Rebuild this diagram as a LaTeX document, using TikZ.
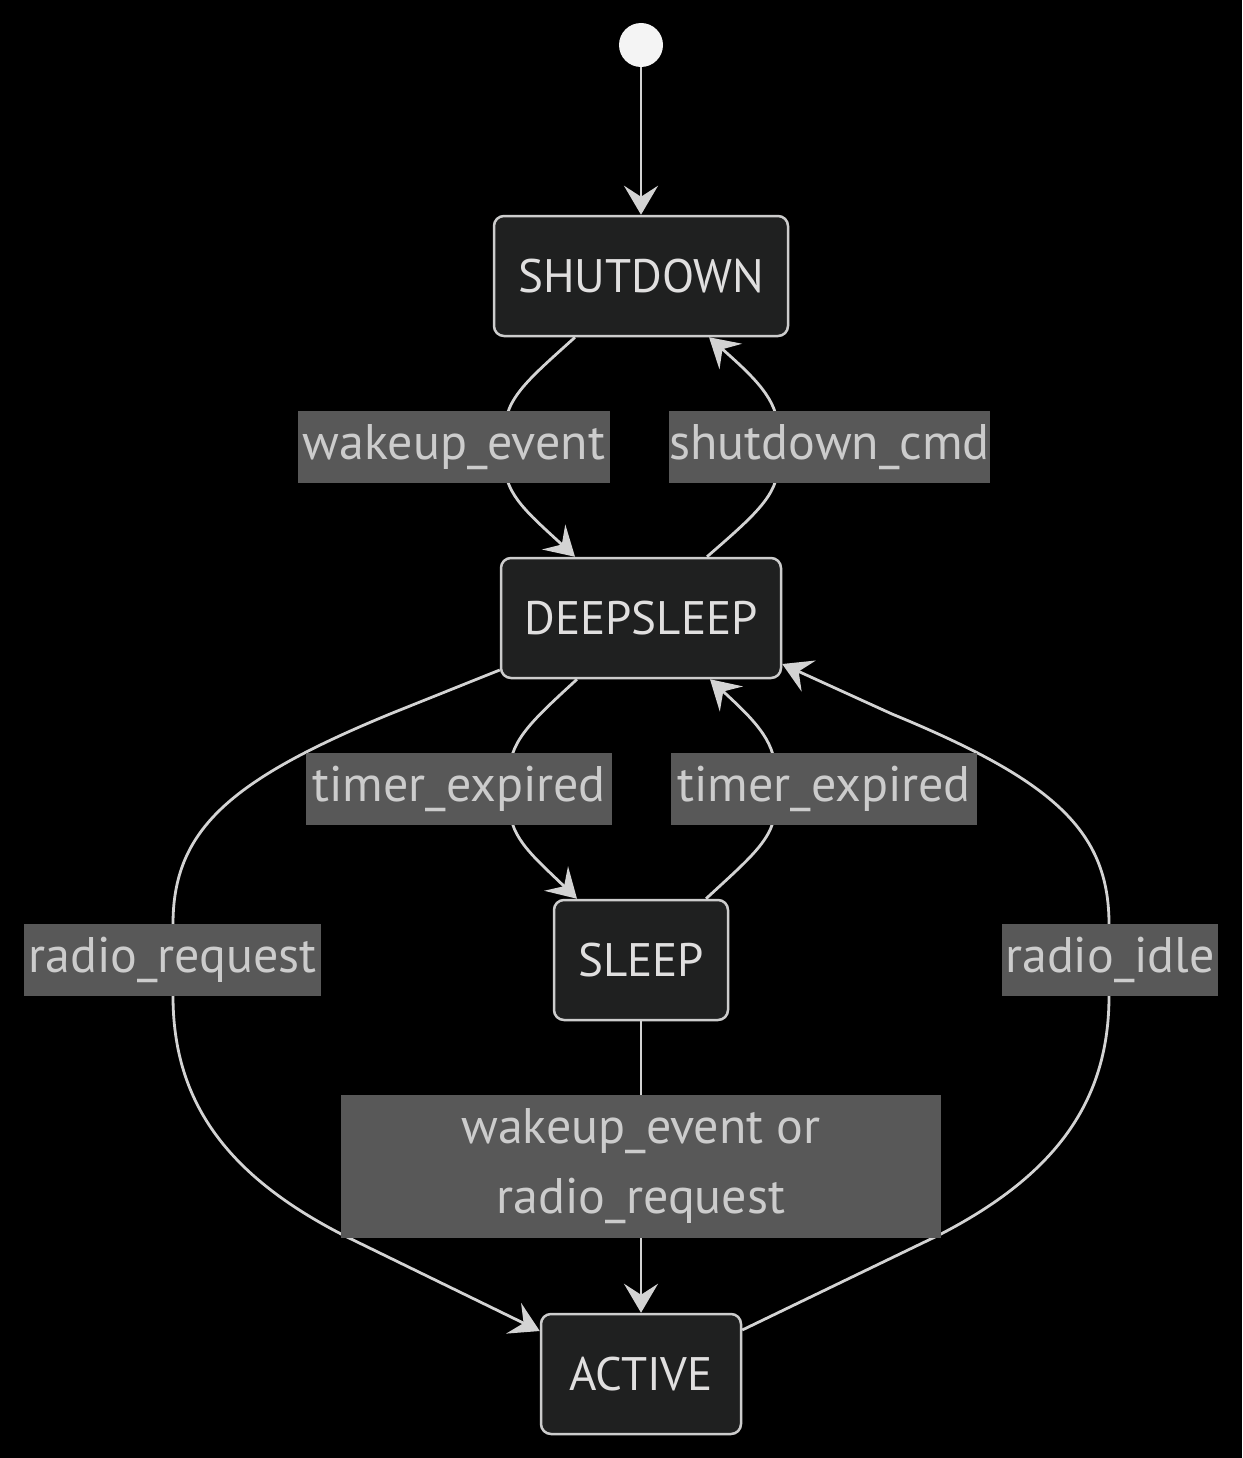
\documentclass[tikz,border=0pt]{standalone}
\usepackage{fontspec}
\setmainfont{PT Sans}
\usetikzlibrary{arrows.meta}
\definecolor{nodefill}{HTML}{1F2020}
\definecolor{nodeline}{HTML}{CCCCCC}
\definecolor{nodetext}{HTML}{E0DFDF}
\definecolor{edgecol}{HTML}{D3D3D3}
\definecolor{lblfill}{HTML}{585858}
\definecolor{lbltext}{HTML}{CCCCCC}
\definecolor{startfill}{HTML}{F4F4F4}
\begin{document}
\begin{tikzpicture}[x=1pt,y=-1pt,
  state/.style={draw=nodeline, fill=nodefill, line width=2.5pt, rounded corners=10pt,
    minimum height=120pt, inner sep=0pt, text=nodetext, font=\fontsize{47}{54}\selectfont},
  lbl/.style={fill=lblfill, text=lbltext, inner sep=0pt, minimum height=72pt,
    font=\fontsize{50}{70}\selectfont},
  conn/.style={draw=edgecol, line width=2.8pt, -{Stealth[length=29pt,width=34pt,inset=11pt]}},
]
\path[fill=black] (0,0) rectangle (1242,1458);

% states
\node[circle, fill=startfill, minimum size=44pt, inner sep=0pt] (start) at (641,45) {};
\node[state, minimum width=294pt] (SD) at (641,276) {SHUTDOWN};
\node[state, minimum width=280pt] (DS) at (641,618) {DEEPSLEEP};
\node[state, minimum width=174pt] (SL) at (641,960) {SLEEP};
\node[state, minimum width=200pt] (AC) at (641,1374) {ACTIVE};

% connectors
\draw[conn] (start) -- (SD.north);
\draw[conn] ([xshift=-66pt]SD.south) .. controls (530,378) and (505,398) .. (505,430)
  -- (505,465) .. controls (505,495) and (530,515) .. ([xshift=-66pt]DS.north);
\draw[conn] ([xshift=66pt]DS.north) .. controls (755,515) and (778,495) .. (778,465)
  -- (778,430) .. controls (778,400) and (755,378) .. ([xshift=68pt]SD.south);
\draw[conn] ([xshift=-64pt]DS.south) .. controls (535,718) and (510,740) .. (510,770)
  -- (510,808) .. controls (510,838) and (535,858) .. ([xshift=-64pt]SL.north);
\draw[conn] ([xshift=65pt]SL.north) .. controls (750,858) and (775,838) .. (775,808)
  -- (775,770) .. controls (775,740) and (752,718) .. ([xshift=69pt]DS.south);
\draw[conn] ([yshift=-52pt]DS.west) -- (390,714) .. controls (230,780) and (173,830) .. (173,924)
  -- (173,996) .. controls (173,1100) and (225,1175) .. (345,1236) -- ([yshift=43pt]AC.west);
\draw[conn] ([yshift=44pt]AC.east) -- (937,1236) .. controls (1057,1175) and (1109,1100) .. (1109,996)
  -- (1109,924) .. controls (1109,830) and (1052,780) .. (892,714) -- ([yshift=-46pt]DS.east);
\draw[conn] (SL.south) -- (AC.north);

% labels
\node[lbl, minimum width=312pt] (l1) at (454,447) {wakeup\_event};
\node[lbl, minimum width=321pt] (l2) at (829.5,447) {shutdown\_cmd};
\node[lbl, minimum width=306pt] (l3) at (459,789) {timer\_expired};
\node[lbl, minimum width=306pt] (l4) at (824,789) {timer\_expired};
\node[lbl, minimum width=297pt] (l5) at (172.5,960) {radio\_request};
\node[lbl, minimum width=216pt] (l6) at (1110,960) {radio\_idle};
\node[lbl, minimum width=600pt, minimum height=143pt, align=center] (l7) at (641,1166.5)
  {wakeup\_event or\\radio\_request};
\end{tikzpicture}
\end{document}
